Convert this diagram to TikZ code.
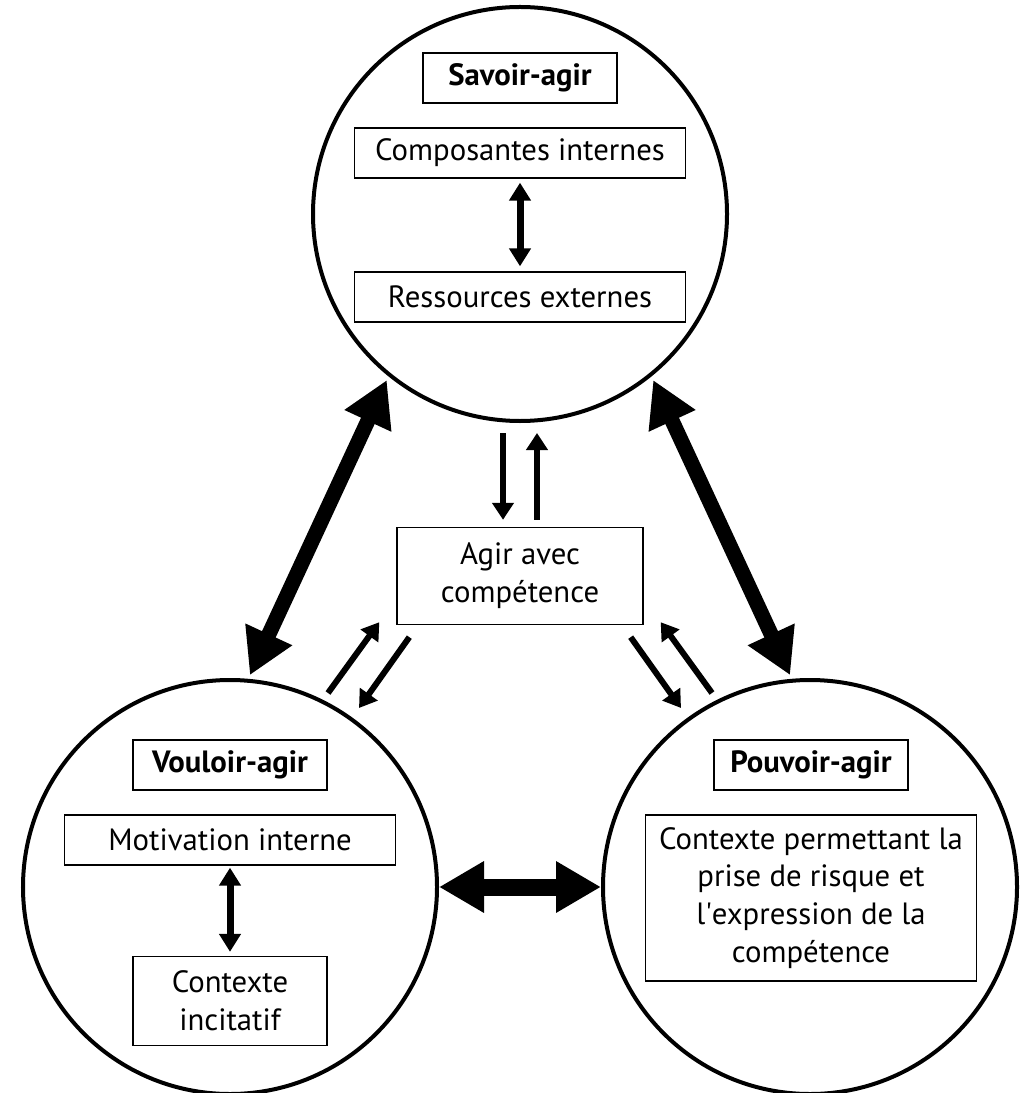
\documentclass[tikz,border=0pt]{standalone}
\usepackage{fontspec}
\setmainfont{PT Sans}
\usetikzlibrary{arrows.meta}
\tikzset{
  rond/.style={draw, circle, minimum size=82.8mm, inner sep=0pt, line width=0.8mm},
  boite/.style={draw, line width=0.27mm, inner sep=0pt, align=center, font=\fontsize{17.5pt}{21.5pt}\selectfont},
  titre/.style={boite, minimum width=38.8mm, minimum height=10mm, font=\fontsize{17.5pt}{21.5pt}\selectfont\bfseries},
  large/.style={boite, minimum width=66.2mm, minimum height=10mm},
  grosse/.style={{Triangle[length=9mm,width=9.7mm]}-{Triangle[length=9mm,width=9.7mm]}, line width=3mm},
  moyenne/.style={{Triangle[length=3.6mm,width=4.2mm]}-{Triangle[length=3.6mm,width=4.2mm]}, line width=1.4mm},
  petite/.style={-{Triangle[length=3.4mm,width=4.2mm]}, line width=1.2mm}
}
\begin{document}
\begin{tikzpicture}[x=0.2mm,y=-0.2mm]
\fill[white] (0,0) rectangle (1030,1093);
\useasboundingbox (0,0) rectangle (1030,1093);
% les trois cercles
\node[rond] (savoir) at (520,214) {};
\node[rond] (vouloir) at (230,887) {};
\node[rond] (pouvoir) at (810,887) {};
% savoir-agir
\node[titre] (tsavoir) at (520,78) {Savoir-agir};
\node[large] (comp) at (520,153) {Composantes internes};
\node[large] (ress) at (520,297) {Ressources externes};
\draw[moyenne, shorten <=0.8mm, shorten >=1mm] (comp) -- (ress);
% vouloir-agir
\node[titre] (tvouloir) at (230,765) {Vouloir-agir};
\node[large] (motiv) at (230,840) {Motivation interne};
\node[boite, minimum width=38.8mm, minimum height=17.8mm] (incit) at (230,1001) {Contexte\\incitatif};
\draw[moyenne, shorten <=0.4mm, shorten >=0.8mm] (motiv) -- (incit);
% pouvoir-agir
\node[titre] (tpouvoir) at (811,765) {Pouvoir-agir};
\node[large, minimum height=33.2mm] (ctx) at (811,898) {Contexte permettant la\\prise de risque et\\l\textquotesingle expression de la\\compétence};
% centre
\node[boite, minimum width=49.2mm, minimum height=19.4mm] (agir) at (520,576) {Agir avec\\compétence};
% grosses fleches
\draw[grosse, shorten <=0.8mm, shorten >=0.8mm] (savoir.231) -- (vouloir.85);
\draw[grosse, shorten <=0.8mm, shorten >=0.8mm] (savoir.309) -- (pouvoir.95);
\draw[grosse, line width=3.4mm] (vouloir) -- (pouvoir);
% petites fleches
\draw[petite, shorten <=2mm, shorten >=1.4mm] ([xshift=-3.4mm]savoir.south) -- ([xshift=-3.4mm]agir.north);
\draw[petite, shorten <=1.4mm, shorten >=2mm] ([xshift=3.4mm]agir.north) -- ([xshift=3.4mm]savoir.south);
\draw[petite] ([shift={(98,-194)}]vouloir.center) -- ([shift={(-17,-3)}]agir.south west);
\draw[petite] ([shift={(13,12)}]agir.south west) -- ([shift={(129,-179)}]vouloir.center);
\draw[petite] ([shift={(-13,12)}]agir.south east) -- ([shift={(-129,-179)}]pouvoir.center);
\draw[petite] ([shift={(-98,-194)}]pouvoir.center) -- ([shift={(17,-3)}]agir.south east);
\end{tikzpicture}
\end{document}
